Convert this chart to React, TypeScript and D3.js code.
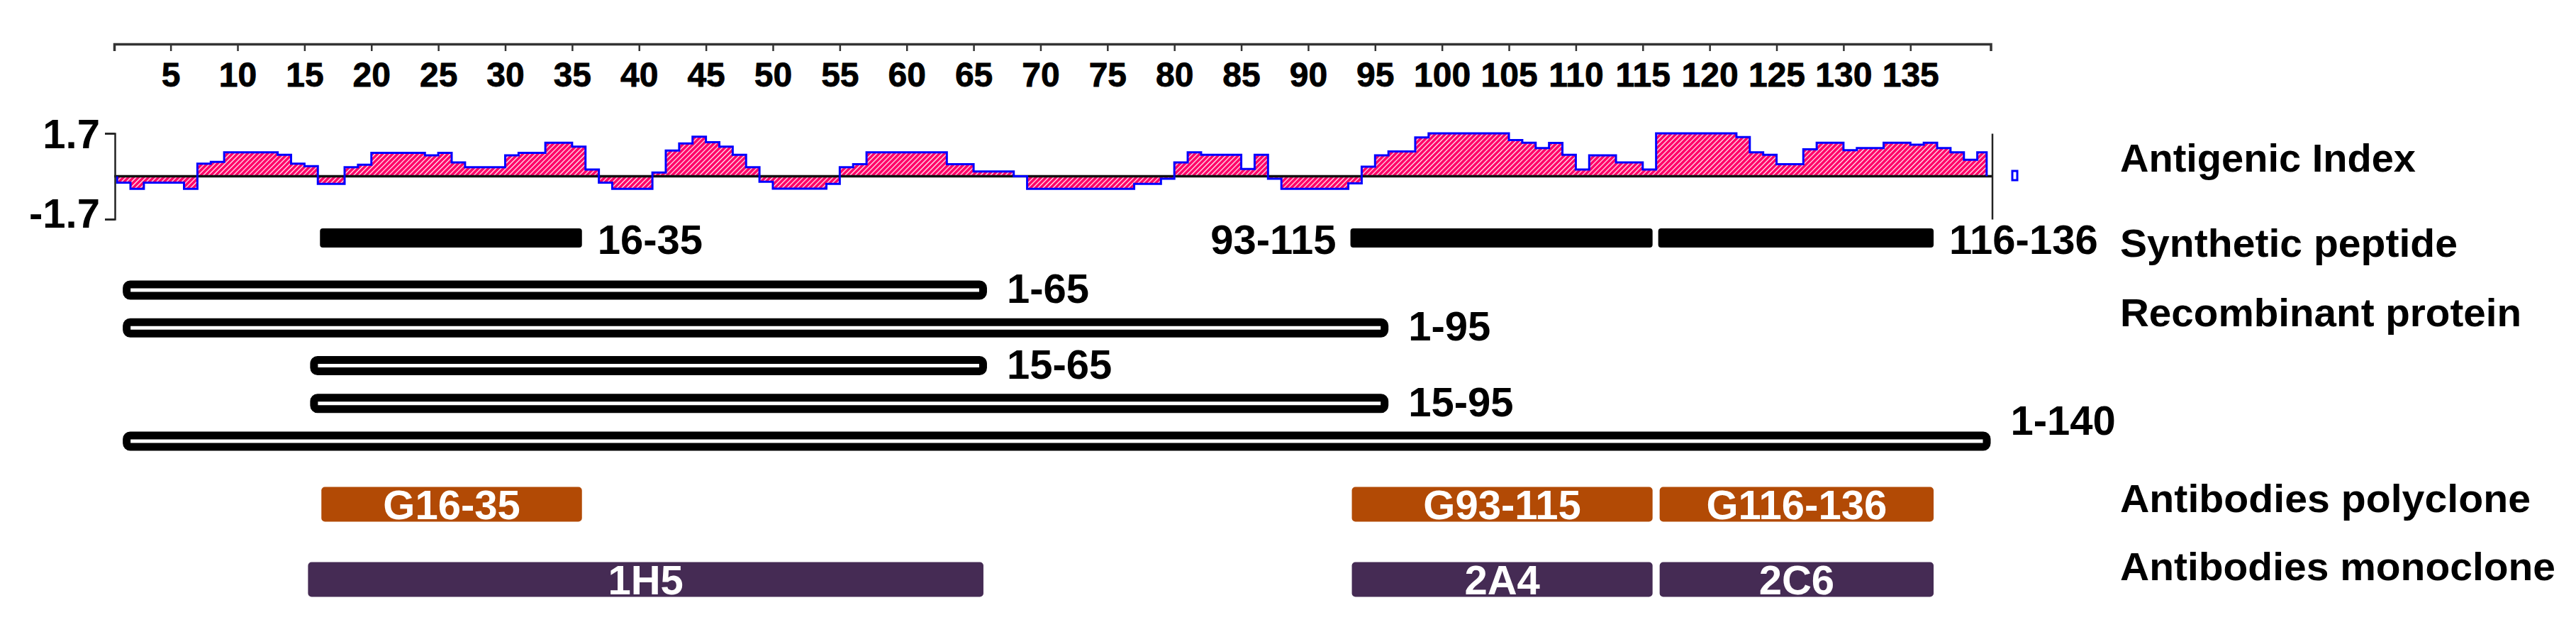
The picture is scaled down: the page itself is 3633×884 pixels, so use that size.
import React, { useEffect, useRef } from 'react';
import * as d3 from 'd3';

// residue numbers printed along the top ruler
const residueTicks = [5, 10, 15, 20, 25, 30, 35, 40, 45, 50, 55, 60, 65, 70, 75, 80, 85, 90, 95, 100, 105, 110, 115, 120, 125, 130, 135];

// antigenic index, one value per residue (1..140)
const antigenicIndex = [
  -0.25, -0.5, -0.25, -0.25, -0.25, -0.5, 0.5, 0.57, 0.95, 0.95,
  0.95, 0.95, 0.85, 0.5, 0.4, -0.3, -0.3, 0.36, 0.46, 0.93,
  0.93, 0.93, 0.93, 0.83, 0.93, 0.55, 0.36, 0.36, 0.36, 0.83,
  0.93, 0.93, 1.33, 1.33, 1.17, 0.27, -0.25, -0.5, -0.5, -0.5,
  0.15, 1.02, 1.3, 1.57, 1.35, 1.17, 0.85, 0.36, -0.22, -0.49,
  -0.49, -0.49, -0.49, -0.3, 0.36, 0.48, 0.95, 0.95, 0.95, 0.95,
  0.95, 0.95, 0.48, 0.48, 0.19, 0.19, 0.19, 0, -0.5, -0.5,
  -0.5, -0.5, -0.5, -0.5, -0.5, -0.5, -0.3, -0.3, -0.1, 0.55,
  0.95, 0.85, 0.85, 0.85, 0.29, 0.85, -0.1, -0.5, -0.5, -0.5,
  -0.5, -0.5, -0.28, 0.38, 0.83, 0.98, 0.98, 1.54, 1.7, 1.7,
  1.7, 1.7, 1.7, 1.7, 1.43, 1.33, 1.12, 1.32, 0.85, 0.27,
  0.83, 0.83, 0.55, 0.55, 0.27, 1.7, 1.7, 1.7, 1.7, 1.7,
  1.7, 1.55, 0.95, 0.85, 0.48, 0.48, 1.07, 1.33, 1.33, 1.03,
  1.12, 1.12, 1.33, 1.33, 1.25, 1.33, 1.12, 0.95, 0.65, 0.95
];
const indexTicks = [-1.7, 1.7];

const syntheticPeptides = [
  { label: '16-35', start: 16, end: 35 },
  { label: '93-115', start: 93, end: 115 },
  { label: '116-136', start: 116, end: 136 }
];
const recombinantProteins = [
  { label: '1-65', start: 1, end: 65 },
  { label: '1-95', start: 1, end: 95 },
  { label: '15-65', start: 15, end: 65 },
  { label: '15-95', start: 15, end: 95 },
  { label: '1-140', start: 1, end: 140 }
];
const polyclonalAntibodies = [
  { label: 'G16-35', start: 16, end: 35 },
  { label: 'G93-115', start: 93, end: 115 },
  { label: 'G116-136', start: 116, end: 136 }
];
const monoclonalAntibodies = [
  { label: '1H5', start: 15, end: 65 },
  { label: '2A4', start: 93, end: 115 },
  { label: '2C6', start: 116, end: 136 }
];
const rowNames = ['Antigenic Index', 'Synthetic peptide', 'Recombinant protein', 'Antibodies polyclone', 'Antibodies monoclone'];

const W = 3633, H = 884;
const FONT = "'Liberation Sans', Arial, sans-serif";

const App = () => {
  const topAxisRef = useRef<SVGGElement>(null);
  const leftAxisRef = useRef<SVGGElement>(null);
  const rightAxisRef = useRef<SVGGElement>(null);

  const x = d3.scaleLinear().domain([0.78, 141]).range([161, 2807.5]);
  const y = d3.scaleLinear().domain([-1.7, 1.7]).range([309, 188]);

  // profile as steps: one step per residue, closed to zero at both ends
  const n = antigenicIndex.length;
  const steps = antigenicIndex.map((v, i) => ({ pos: i + 1, v }));
  const closed = [{ pos: 1, v: 0 }, ...steps, { pos: n + 0.7, v: antigenicIndex[n - 1] }, { pos: n + 0.7, v: 0 }];
  const area = d3.area<any>().x(d => x(d.pos)).y0(y(0)).y1(d => y(d.v)).curve(d3.curveStepAfter);
  const outline = d3.line<any>().x(d => x(d.pos)).y(d => y(d.v)).curve(d3.curveStepAfter);

  const recY = d3.scalePoint<string>().domain(recombinantProteins.map(d => d.label)).range([409, 622]);
  const labelLeft = new Set(['93-115']);
  const labelLift: Record<string, number> = { '1-140': 27 };
  const rowBaselines = [242, 362, 460, 722, 818];
  const rowWidths = [417, 476, 566, 579, 614];

  useEffect(() => {
    const top = d3.select(topAxisRef.current!);
    top.call(
      d3.axisBottom(x).tickValues(residueTicks).tickSize(10).tickSizeOuter(10).tickPadding(16).tickFormat(d => String(d)) as any
    );
    top.select('.domain').attr('stroke', '#333').attr('stroke-width', 3.5);
    top.selectAll('.tick line').attr('stroke', '#333').attr('stroke-width', 2.5);
    top.selectAll('.tick text').attr('font-size', 48).attr('font-weight', 'bold').attr('font-family', FONT).attr('fill', '#000')
      .attr('stroke', '#000').attr('stroke-width', 0.8);

    const left = d3.select(leftAxisRef.current!);
    left.call(d3.axisLeft(y).tickValues(indexTicks).tickSize(14).tickSizeOuter(14).tickPadding(7).tickFormat(d => String(d)) as any);
    left.select('.domain').attr('stroke', '#222').attr('stroke-width', 2.5);
    left.selectAll('.tick line').attr('stroke', '#222').attr('stroke-width', 2.5);
    left.selectAll('.tick text').attr('font-size', 58).attr('font-weight', 'bold').attr('font-family', FONT).attr('fill', '#000')
      .attr('dy', (d: any) => (d > 0 ? '0.35em' : '0.2em'));

    const right = d3.select(rightAxisRef.current!);
    right.call(d3.axisRight(y).tickValues([]).tickSizeOuter(0) as any);
    right.select('.domain').attr('stroke', '#222').attr('stroke-width', 2.5);
  }, []);

  const barLabel = (text: string, xPos: number, yPos: number, anchor = 'start') => (
    <text x={xPos} y={yPos} textAnchor={anchor} fontSize={58} fontWeight="bold" fontFamily={FONT}>{text}</text>
  );

  return (
    <svg width={W} height={H} style={{ position: 'absolute', left: 0, top: 0, background: '#fff' }}>
      <defs>
        <pattern id="hatch" patternUnits="userSpaceOnUse" width="5" height="5" patternTransform="rotate(45)">
          <rect width="5" height="5" fill="#ff0066" />
          <line x1="2.5" y1="0" x2="2.5" y2="5" stroke="#fff" strokeWidth="1.2" />
        </pattern>
      </defs>

      <g ref={topAxisRef} transform="translate(0,62)" />

      {/* antigenic index profile */}
      <path d={area(closed) || ''} fill="url(#hatch)" />
      <line x1={x(0.78)} x2={x(141) + 2} y1={y(0)} y2={y(0)} stroke="#111" strokeWidth={3.5} />
      <path d={outline(closed) || ''} fill="none" stroke="#0000ff" strokeWidth={3} />
      <g ref={leftAxisRef} transform="translate(162,0)" />
      <g ref={rightAxisRef} transform={`translate(${x(141) + 2},0)`} />
      <rect x={2838} y={241} width={7} height={13} fill="none" stroke="#0000ff" strokeWidth={3} />

      {/* synthetic peptides */}
      {syntheticPeptides.map(d => {
        const x0 = x(d.start) + 3, x1 = x(d.end + 1) - 5;
        return (
          <g key={d.label}>
            <rect x={x0} y={322} width={x1 - x0} height={27} rx={4} fill="#000" />
            {labelLeft.has(d.label) ? barLabel(d.label, x0 - 20, 358, 'end') : barLabel(d.label, x1 + 22, 358)}
          </g>
        );
      })}

      {/* recombinant proteins */}
      {recombinantProteins.map(d => {
        const x0 = x(d.start) + 8, x1 = x(d.end + 1);
        const cy = recY(d.label)!;
        return (
          <g key={d.label}>
            <rect x={x0 + 5.5} y={cy - 8} width={x1 - x0 - 11} height={16} rx={5} fill="#fff" stroke="#000" strokeWidth={11} />
            {barLabel(d.label, x1 + 28, cy + 18 - (labelLift[d.label] || 0))}
          </g>
        );
      })}

      {/* antibodies */}
      {[{ rows: polyclonalAntibodies, cy: 711, color: '#b24a05' }, { rows: monoclonalAntibodies, cy: 817, color: '#452b54' }].map(group =>
        group.rows.map(d => {
          const x0 = x(d.start) + 5, x1 = x(d.end + 1) - 5;
          return (
            <g key={d.label}>
              <rect x={x0} y={group.cy - 24.5} width={x1 - x0} height={49} rx={5} fill={group.color} />
              <text x={(x0 + x1) / 2} y={group.cy + 21} textAnchor="middle" fontSize={58} fontWeight="bold" fontFamily={FONT} fill="#fff">{d.label}</text>
            </g>
          );
        })
      )}

      {/* row names */}
      {rowNames.map((name, i) => (
        <text key={name} x={2990} y={rowBaselines[i]} fontSize={56} fontWeight="bold" fontFamily={FONT}
          textLength={rowWidths[i]} lengthAdjust="spacingAndGlyphs">{name}</text>
      ))}
    </svg>
  );
};

export default App;
